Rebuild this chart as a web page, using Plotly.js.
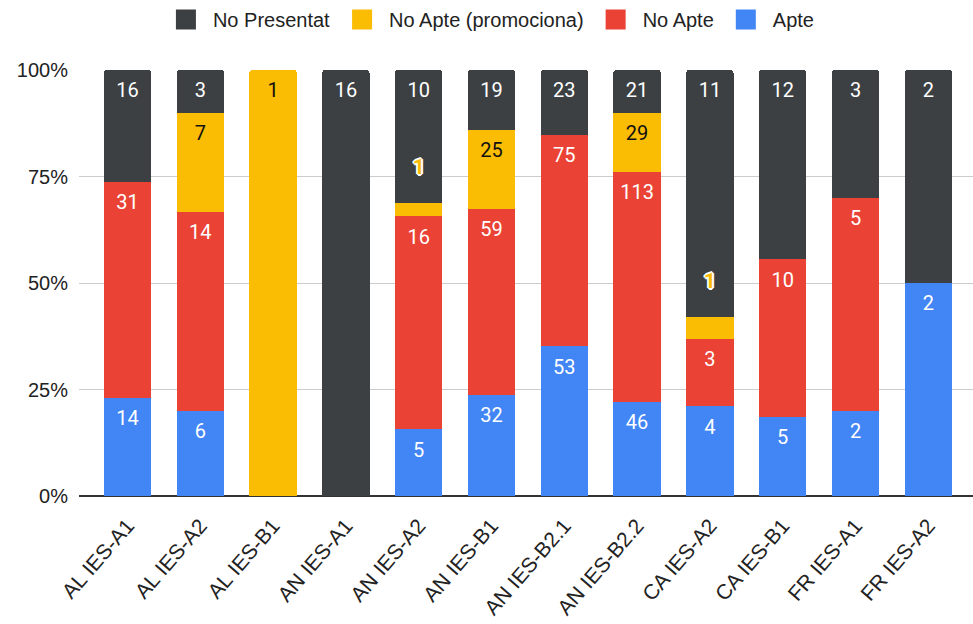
<!DOCTYPE html>
<html>
<head>
<meta charset="utf-8">
<script src="https://cdn.plot.ly/plotly-3.0.1.min.js"></script>
<style>html,body{margin:0;padding:0;background:#fff;}#chart{width:973px;height:624px;}</style>
</head>
<body>
<div id="chart"></div>
<script>
const categories = ["AL IES-A1","AL IES-A2","AL IES-B1","AN IES-A1","AN IES-A2","AN IES-B1","AN IES-B2.1","AN IES-B2.2","CA IES-A2","CA IES-B1","FR IES-A1","FR IES-A2"];
const apte        = [14, 6, 0, 0, 5, 32, 53, 46, 4, 5, 2, 2];
const noApte      = [31, 14, 0, 0, 16, 59, 75, 113, 3, 10, 5, 0];
const noApteProm  = [0, 7, 1, 0, 1, 25, 0, 29, 1, 0, 0, 0];
const noPresentat = [16, 3, 0, 16, 10, 19, 23, 21, 11, 12, 3, 2];

const seriesNames  = ["Apte", "No Apte", "No Apte (promociona)", "No Presentat"];
const seriesColors = ["#4285F4", "#EA4335", "#FBBC04", "#3C4043"];
const labelColors  = ["#ffffff", "#ffffff", "#111111", "#ffffff"];
const series = [apte, noApte, noApteProm, noPresentat];

const totals = categories.map((c,i)=>series.reduce((s,a)=>s+a[i],0));
const traces = [];
series.forEach((vals,k)=>{
  traces.push({type:"bar", name:seriesNames[k], x:categories, y:vals, marker:{color:seriesColors[k], line:{width:0}},
    showlegend:false, hoverinfo:"skip"});
});
// value labels near the top of each segment (tiny segments: label above the segment)
const valFont = {family:"Roboto, sans-serif", size:20};
series.forEach((vals,k)=>{
  const x=[], y=[], t=[], xs=[], ys=[], ts=[];
  categories.forEach((c,i)=>{
    const v = vals[i]; if(!v) return;
    let cum = 0; for(let j=0;j<=k;j++) cum += series[j][i];
    const top = cum/totals[i]*100;
    if(v/totals[i] < 0.1){ xs.push(c); ys.push(top); ts.push(String(v)); }
    else { x.push(c); y.push(top); t.push(String(v)); }
  });
  traces.push({type:"scatter", mode:"markers+text", x, y, text:t, textposition:"bottom center", showlegend:false, hoverinfo:"skip",
    marker:{size:18, opacity:0}, textfont:Object.assign({color:labelColors[k]}, valFont), cliponaxis:false});
  if(xs.length){
    traces.push({type:"scatter", mode:"markers+text", x:xs, y:ys, text:ts, textposition:"top center", showlegend:false, hoverinfo:"skip",
      marker:{size:36, opacity:0}, cliponaxis:false,
      textfont:{family:"Roboto, sans-serif", size:21, weight:"bold", color:seriesColors[k],
        shadow:"1px 1px 0 #fff, -1px -1px 0 #fff, 1px -1px 0 #fff, -1px 1px 0 #fff, 0 2px 0 #fff, 0 -2px 0 #fff, 2px 0 0 #fff, -2px 0 0 #fff"}});
  }
});
// legend entries (reversed order like reference)
for(let k=3;k>=0;k--){
  traces.push({type:"scatter", mode:"markers", x:[null], y:[null], name:seriesNames[k], showlegend:true, hoverinfo:"skip",
    marker:{symbol:"square", size:20, color:seriesColors[k], line:{width:4, color:seriesColors[k]}}});
}

const tickFont = {family:"Liberation Sans, Arial, sans-serif", size:20, color:"#222"};
const layout = {
  width:973, height:624,
  margin:{l:79, r:0, t:70, b:128},
  paper_bgcolor:"#ffffff", plot_bgcolor:"#ffffff",
  barmode:"stack", barnorm:"percent", bargap:0.35, barcornerradius:3,
  showlegend:true,
  legend:{orientation:"h", traceorder:"normal", xref:"container", yref:"container", x:0.503, xanchor:"center", y:1.0, yanchor:"top",
    font:{family:"Liberation Sans, Arial, sans-serif", size:20, color:"#222"}, itemsizing:"trace", itemwidth:44},
  xaxis:{type:"category", range:[-0.666, 11.614], tickangle:-49, showgrid:false, showline:false,
    ticks:"outside", ticklen:8, tickcolor:"rgba(0,0,0,0)",
    tickfont:{family:"Liberation Sans, Arial, sans-serif", size:21, color:"#222"}},
  yaxis:{range:[0,100], tickvals:[0,25,50,75,100], ticktext:["0%","25%","50%","75%","100%"],
    showgrid:true, gridcolor:"#cccccc", gridwidth:1, zeroline:true, zerolinecolor:"#333333", zerolinewidth:2,
    showline:false, ticks:"", ticklabelstandoff:10, tickfont:tickFont}
};
Plotly.newPlot("chart", traces, layout, {displayModeBar:false, staticPlot:true});
</script>
</body>
</html>
